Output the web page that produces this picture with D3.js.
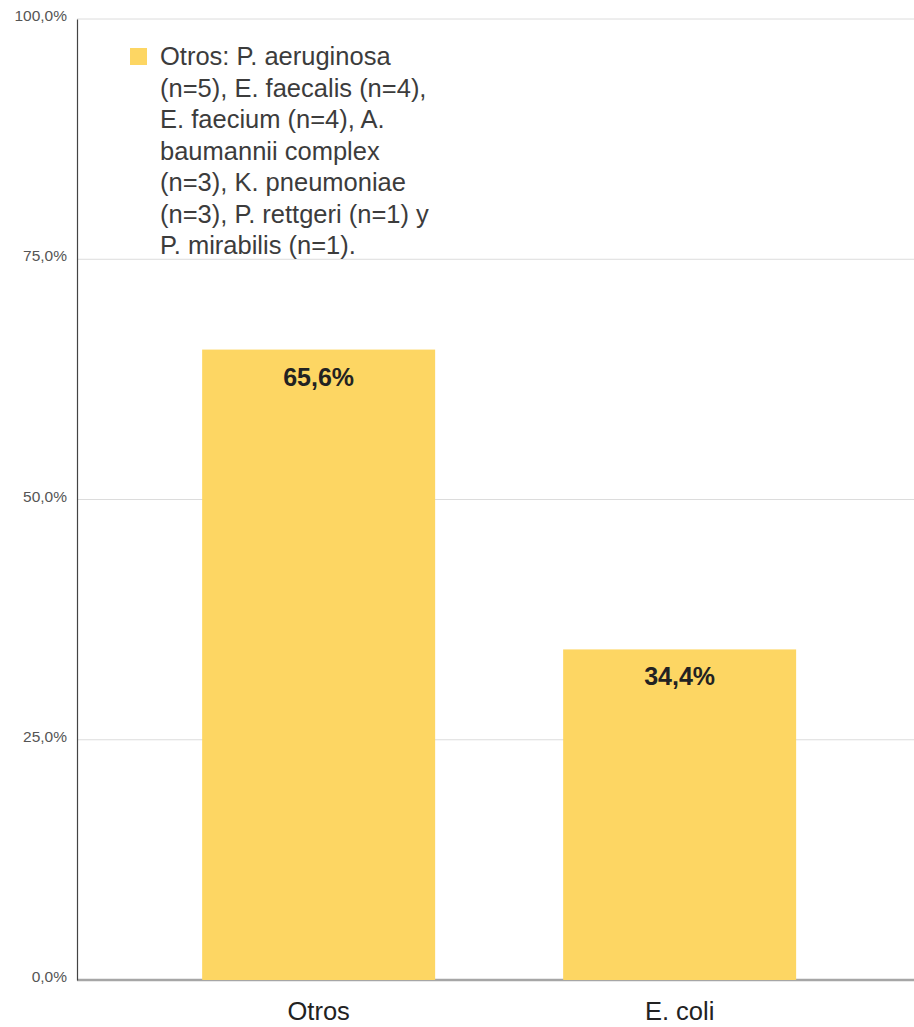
<!DOCTYPE html>
<html>
<head>
<meta charset="utf-8">
<script src="https://cdn.jsdelivr.net/npm/d3@7"></script>
<style>
  body { margin: 0; background: #fff; }
  svg { display: block; font-family: "Liberation Sans", Arial, sans-serif; }
</style>
</head>
<body>
<script>
'use strict';

// chart data
let categories = ["Otros", "E. coli"];
let values = [65.6, 34.4];
let tickValues = [0, 25, 50, 75, 100];
let legendLines = [
  "Otros: P. aeruginosa",
  "(n=5), E. faecalis (n=4),",
  "E. faecium (n=4), A.",
  "baumannii complex",
  "(n=3), K. pneumoniae",
  "(n=3), P. rettgeri (n=1) y",
  "P. mirabilis (n=1)."
];

let width = 914, height = 1027;
let margin = { top: 19, left: 77, bottom: 47, right: 0 };
let barColor = "#fdd663";

let fmt = v => d3.format(".1f")(v).replace(".", ",") + "%";

let svg = d3.select("body")
  .append("svg")
  .attr("width", width)
  .attr("height", height);

let x = d3.scaleBand()
  .domain(categories)
  .range([margin.left, width - margin.right])
  .paddingInner(0.3546)
  .paddingOuter(0.3366)
  .align(0.515);

let y = d3.scaleLinear()
  .domain([0, 100])
  .range([height - margin.bottom, margin.top]);

// gridlines
svg.append("g")
  .selectAll("line")
  .data(tickValues.filter(d => d > 0))
  .enter()
  .append("line")
  .attr("x1", margin.left)
  .attr("x2", width)
  .attr("y1", d => y(d))
  .attr("y2", d => y(d))
  .attr("stroke", "#dcdcdc")
  .attr("stroke-width", 1);

// baseline
svg.append("line")
  .attr("x1", margin.left)
  .attr("x2", width)
  .attr("y1", y(0))
  .attr("y2", y(0))
  .attr("stroke", "#a6a6a6")
  .attr("stroke-width", 2.5);

// y axis
let yAxis = d3.axisLeft(y)
  .tickValues(tickValues)
  .tickSize(0)
  .tickPadding(10)
  .tickFormat(fmt);

let yg = svg.append("g")
  .attr("transform", "translate(" + margin.left + ",0)")
  .call(yAxis);
yg.select(".domain").attr("stroke", "#444").attr("stroke-width", 1.2);
yg.selectAll("text")
  .attr("font-size", "15.5px")
  .attr("fill", "#555")
  .attr("dy", "0.1em");

// bars
svg.selectAll(".bar")
  .data(values)
  .enter()
  .append("rect")
  .attr("class", "bar")
  .attr("x", (d, i) => x(categories[i]))
  .attr("y", d => y(d))
  .attr("width", x.bandwidth())
  .attr("height", d => y(0) - y(d))
  .attr("fill", barColor);

// bar labels
svg.selectAll(".barlabel")
  .data(values)
  .enter()
  .append("text")
  .attr("class", "barlabel")
  .attr("x", (d, i) => x(categories[i]) + x.bandwidth() / 2)
  .attr("y", d => y(d) + 36)
  .attr("text-anchor", "middle")
  .attr("font-size", "25px")
  .attr("font-weight", "bold")
  .attr("fill", "#222")
  .text(d => fmt(d));

// x axis labels
let xAxis = d3.axisBottom(x).tickSize(0).tickPadding(0);
let xg = svg.append("g")
  .attr("transform", "translate(0," + y(0) + ")")
  .call(xAxis);
xg.select(".domain").remove();
xg.selectAll("text")
  .attr("y", 40)
  .attr("dy", 0)
  .attr("font-size", "25.5px")
  .attr("fill", "#222");

// legend
let legend = svg.append("g").attr("transform", "translate(130,48)");
legend.append("rect")
  .attr("width", 17)
  .attr("height", 17)
  .attr("fill", barColor);
legend.append("text")
  .attr("x", 30)
  .attr("y", 17)
  .attr("font-size", "25.5px")
  .attr("fill", "#3c3c3c")
  .selectAll("tspan")
  .data(legendLines)
  .enter()
  .append("tspan")
  .attr("x", 30)
  .attr("dy", (d, i) => i == 0 ? 0 : 31.5)
  .text(d => d);
</script>
</body>
</html>
